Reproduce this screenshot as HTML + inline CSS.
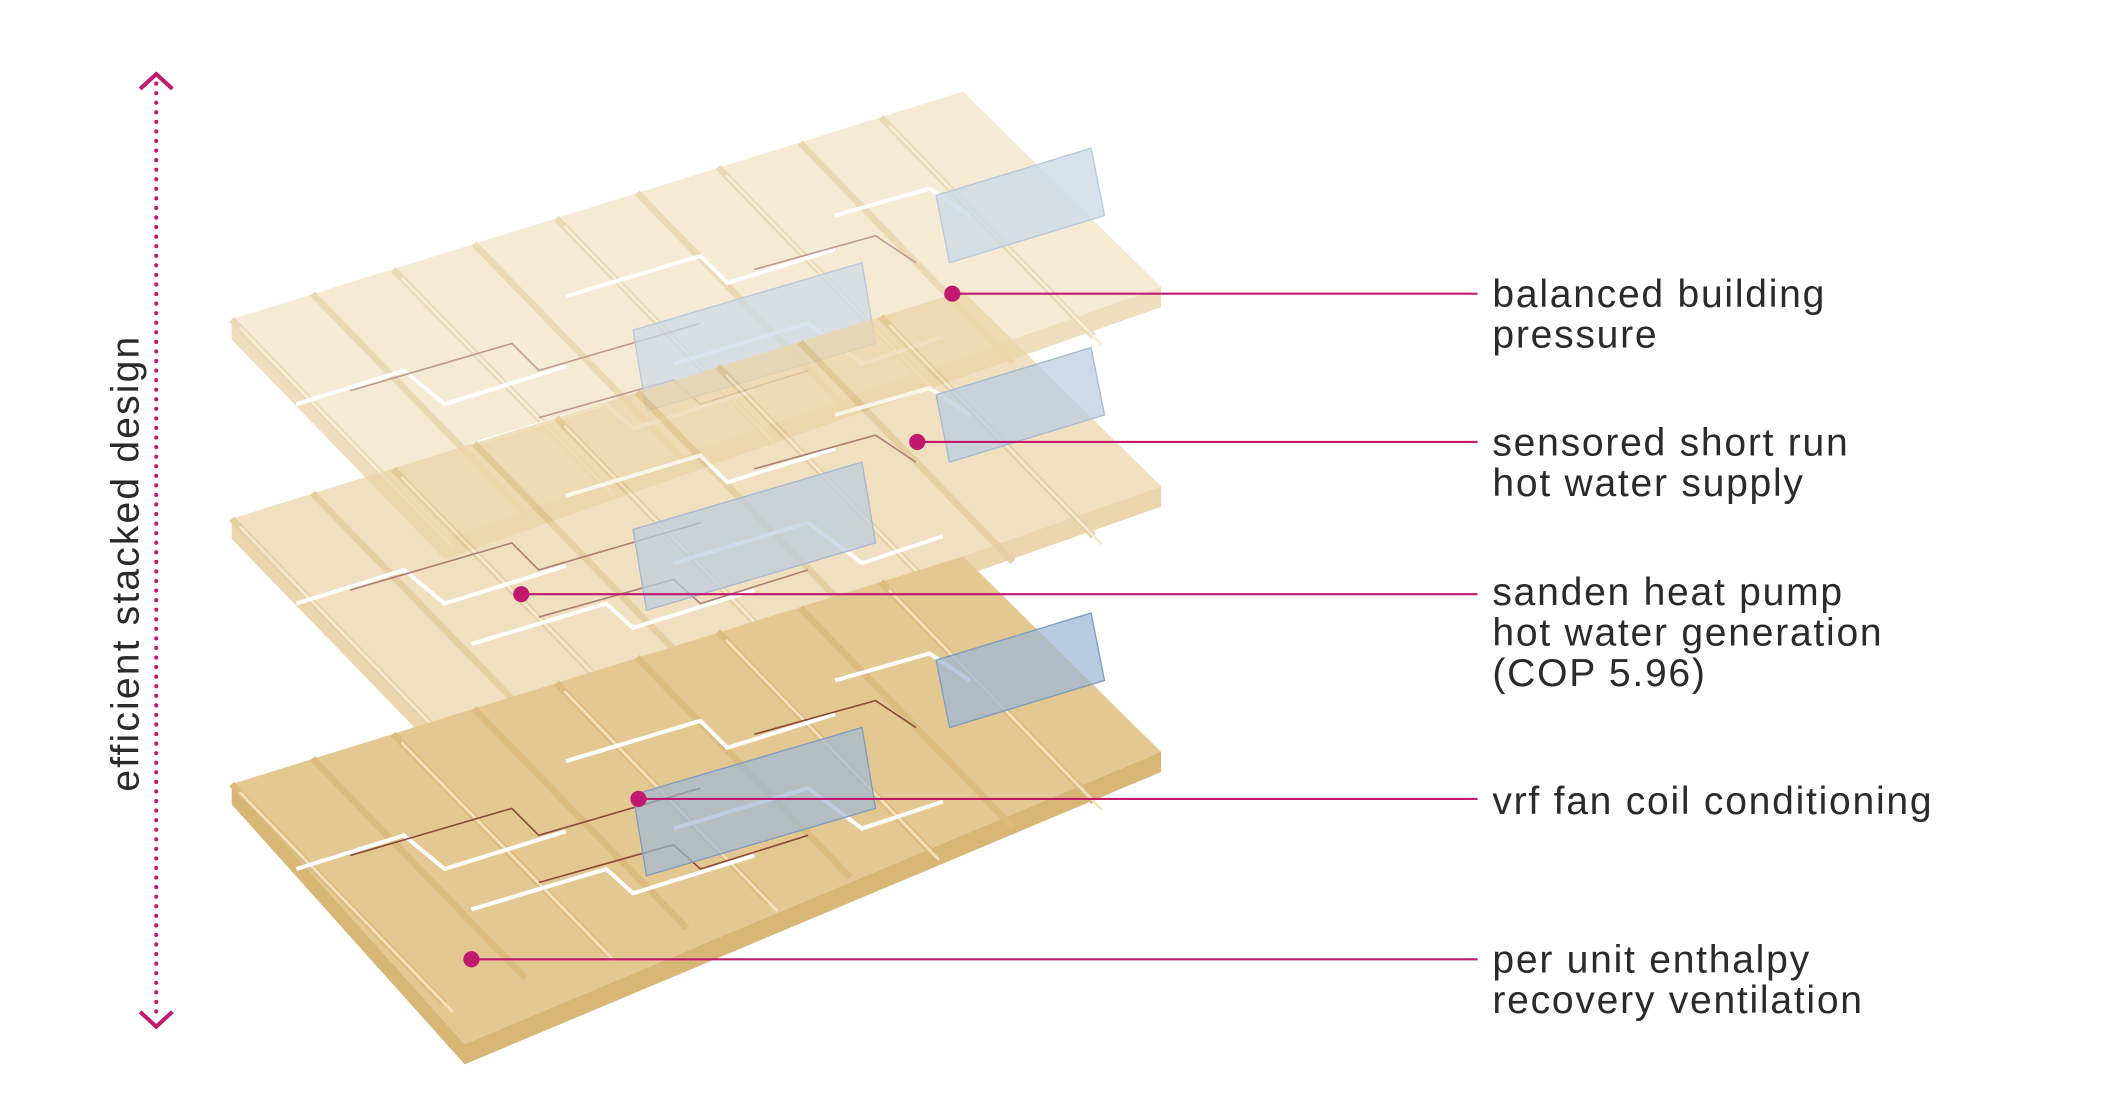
<!DOCTYPE html>
<html><head><meta charset="utf-8"><style>
html,body{margin:0;padding:0;background:#fff;width:2112px;height:1094px;overflow:hidden}
svg{display:block}
text{font-family:"Liberation Sans",sans-serif;fill:#2a2a2a;font-weight:normal}
</style></head><body>
<svg width="2112" height="1094" viewBox="0 0 1568 812" preserveAspectRatio="none" xmlns="http://www.w3.org/2000/svg">
<defs>
<g id="beams">
  <g stroke="#dcbb7c" stroke-width="5">
    <line x1="172" y1="237" x2="330" y2="400"/>
    <line x1="232" y1="218" x2="390" y2="381"/>
    <line x1="292" y1="200" x2="450" y2="362"/>
    <line x1="352" y1="181" x2="510" y2="344"/>
    <line x1="413" y1="162" x2="571" y2="325"/>
    <line x1="473" y1="143" x2="631" y2="306"/>
    <line x1="533" y1="124" x2="691" y2="287"/>
    <line x1="594" y1="106" x2="752" y2="269"/>
    <line x1="654" y1="87" x2="812" y2="250"/>
  </g>
  <g stroke="#f2e2bf" stroke-width="2">
    <line x1="178" y1="243" x2="336" y2="406"/>
    <line x1="298" y1="206" x2="456" y2="368"/>
    <line x1="419" y1="168" x2="577" y2="331"/>
    <line x1="539" y1="130" x2="697" y2="293"/>
    <line x1="660" y1="93" x2="818" y2="256"/>
  </g>
  <g stroke="#ffffff" stroke-width="3" fill="none">
    <polyline points="220,300 300,275 330,300 420,272"/>
    <polyline points="350,330 450,300 470,318 560,290"/>
    <polyline points="420,220 520,190 540,210 620,185"/>
    <polyline points="500,270 600,240 640,270 700,250"/>
    <polyline points="620,160 690,140 720,160"/>
  </g>
  <g stroke="#8a4a3a" stroke-width="1.2" fill="none">
    <polyline points="260,290 380,255 400,275 520,240"/>
    <polyline points="400,310 500,282 520,300 600,275"/>
    <polyline points="560,200 650,175 680,195"/>
  </g>
  <polygon points="695,145 810,110 820,160 705,195" fill="#9fb8d4" fill-opacity="0.75" stroke="#7f9cc0"/>
  <polygon points="470,245 640,195 650,255 480,305" fill="#9fb8d4" fill-opacity="0.7" stroke="#7f9cc0"/>
</g>
</defs>

<g opacity="0.55">
  <polygon points="172,237 172,252 330,415 862,228 862,213 330,400" fill="#e2c48a"/>
  <polygon points="172,237 715,68 862,213 330,400" fill="#eedbb2"/>
  <use href="#beams"/>
</g>
<g opacity="0.7" transform="translate(0,148)">
  <polygon points="172,237 172,252 330,415 862,228 862,213 330,400" fill="#e2c48a"/>
  <polygon points="172,237 715,68 862,213 330,400" fill="#ebd4a4"/>
  <use href="#beams"/>
</g>
<g transform="translate(0,345)">
  <polygon points="172,237 172,252 345,445 862,228 862,213 345,430" fill="#d8b676"/>
  <polygon points="172,237 715,68 862,213 345,430" fill="#e3c891"/>
  <use href="#beams"/>
</g>

<line x1="116" y1="62" x2="116" y2="756" stroke="#c0196e" stroke-width="3" stroke-dasharray="0.1 7" stroke-linecap="round"/>
<polyline points="104,66 116,55 128,66" fill="none" stroke="#c0196e" stroke-width="3"/>
<polyline points="104,751 116,762 128,751" fill="none" stroke="#c0196e" stroke-width="3"/>
<text transform="translate(103,418) rotate(-90)" text-anchor="middle" font-size="29" style="letter-spacing:1.6px" fill="#333">efficient stacked design</text>

<g stroke="#c0196e" stroke-width="1.6">
  <line x1="707" y1="218" x2="1097" y2="218"/>
  <line x1="681" y1="328" x2="1097" y2="328"/>
  <line x1="387" y1="441" x2="1097" y2="441"/>
  <line x1="474" y1="593" x2="1097" y2="593"/>
  <line x1="350" y1="712" x2="1097" y2="712"/>
</g>
<g fill="#c0196e">
  <circle cx="707" cy="218" r="6"/>
  <circle cx="681" cy="328" r="6"/>
  <circle cx="387" cy="441" r="6"/>
  <circle cx="474" cy="593" r="6"/>
  <circle cx="350" cy="712" r="6"/>
</g>

<g font-size="29" style="letter-spacing:1.3px">
  <text x="1108" y="228">balanced building</text>
  <text x="1108" y="258">pressure</text>
  <text x="1108" y="338">sensored short run</text>
  <text x="1108" y="368">hot water supply</text>
  <text x="1108" y="449">sanden heat pump</text>
  <text x="1108" y="479">hot water generation</text>
  <text x="1108" y="509">(COP 5.96)</text>
  <text x="1108" y="604">vrf fan coil conditioning</text>
  <text x="1108" y="722">per unit enthalpy</text>
  <text x="1108" y="752">recovery ventilation</text>
</g>
</svg>
</body></html>
